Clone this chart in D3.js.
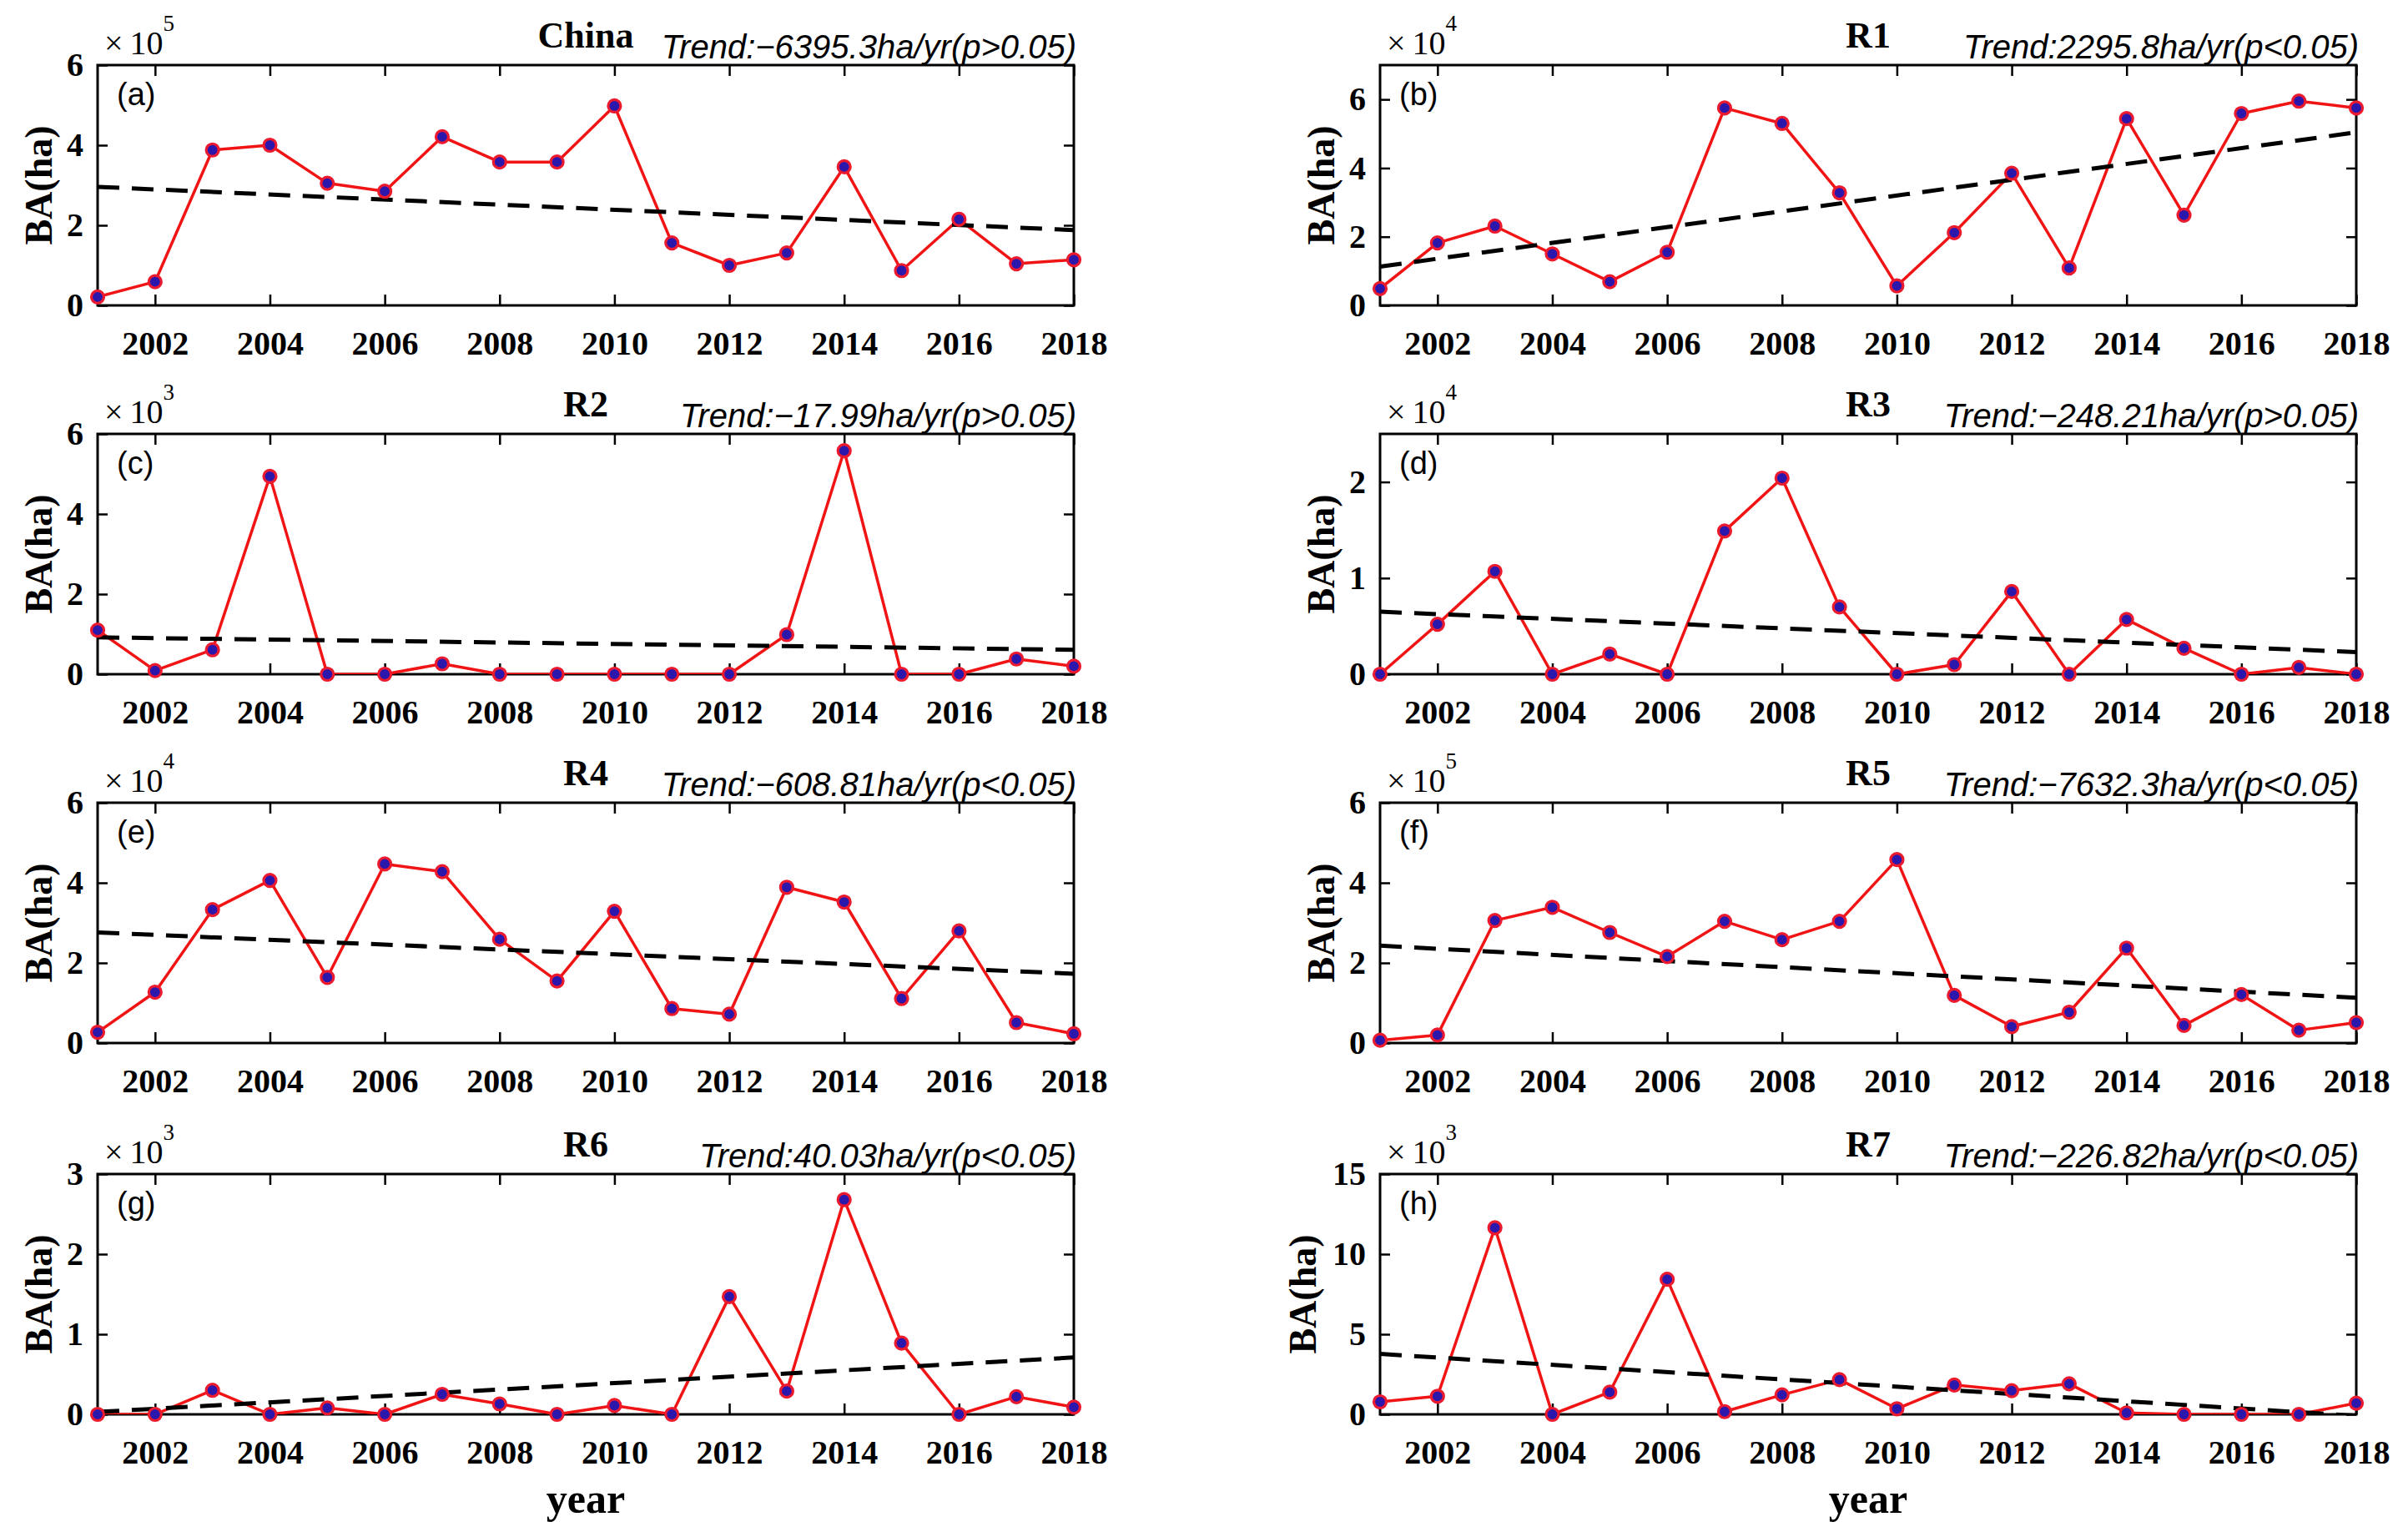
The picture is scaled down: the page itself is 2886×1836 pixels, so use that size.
<!DOCTYPE html>
<html><head><meta charset="utf-8">
<script src="https://cdn.jsdelivr.net/npm/d3@7"></script>
<style>html,body{margin:0;padding:0;background:#fff;} svg{display:block;}</style>
</head><body>
<svg id="chart" width="2886" height="1836"></svg>
<script>
// ---------- data ----------
const years = [2001,2002,2003,2004,2005,2006,2007,2008,2009,2010,2011,2012,2013,2014,2015,2016,2017,2018];
const xTickYears = [2002,2004,2006,2008,2010,2012,2014,2016,2018];
const panelNames = ["China","R1","R2","R3","R4","R5","R6","R7"];
const panelLetters = ["(a)","(b)","(c)","(d)","(e)","(f)","(g)","(h)"];
const trendLabels = [
  "Trend:\u22126395.3ha/yr(p>0.05)",
  "Trend:2295.8ha/yr(p<0.05)",
  "Trend:\u221217.99ha/yr(p>0.05)",
  "Trend:\u2212248.21ha/yr(p>0.05)",
  "Trend:\u2212608.81ha/yr(p<0.05)",
  "Trend:\u22127632.3ha/yr(p<0.05)",
  "Trend:40.03ha/yr(p<0.05)",
  "Trend:\u2212226.82ha/yr(p<0.05)"
];
const exponents = [5,4,3,4,4,5,3,3];
const yMaxes = [6,7,6,2.5,6,6,3,15];
const yTicks = [[0,2,4,6],[0,2,4,6],[0,2,4,6],[0,1,2],[0,2,4,6],[0,2,4,6],[0,1,2,3],[0,5,10,15]];

// burned area values, in units of 10^exponent ha
const baChina = [0.21,0.59,3.88,4.00,3.05,2.85,4.21,3.58,3.58,4.98,1.56,1.00,1.31,3.46,0.87,2.15,1.04,1.14];
const baR1    = [0.49,1.82,2.31,1.50,0.69,1.55,5.75,5.30,3.28,0.57,2.12,3.85,1.09,5.44,2.63,5.59,5.95,5.75];
const baR2    = [1.10,0.09,0.61,4.94,0.00,0.00,0.26,0.00,0.00,0.00,0.00,0.00,0.99,5.58,0.00,0.00,0.38,0.20];
const baR3    = [0.00,0.52,1.07,0.00,0.21,0.00,1.49,2.04,0.70,0.00,0.10,0.86,0.00,0.57,0.27,0.00,0.07,0.00];
const baR4    = [0.27,1.27,3.33,4.06,1.64,4.47,4.28,2.59,1.55,3.29,0.86,0.72,3.89,3.52,1.11,2.80,0.51,0.23];
const baR5    = [0.07,0.20,3.06,3.39,2.76,2.16,3.04,2.58,3.04,4.58,1.19,0.41,0.77,2.37,0.44,1.21,0.32,0.51];
const baR6    = [0.00,0.00,0.30,0.00,0.08,0.00,0.25,0.13,0.00,0.11,0.00,1.47,0.29,2.68,0.89,0.00,0.22,0.09];
const baR7    = [0.78,1.13,11.65,0.00,1.39,8.43,0.17,1.22,2.17,0.35,1.83,1.48,1.91,0.09,0.00,0.00,0.00,0.70];
const seriesList = [baChina, baR1, baR2, baR3, baR4, baR5, baR6, baR7];

// trend line values at 2001 and 2018 (same units)
const trendStart = [2.96,1.13,0.92,0.65,2.76,2.43,0.03,3.77];
const trendEnd   = [1.88,5.04,0.61,0.23,1.73,1.13,0.71,-0.09];

// ---------- layout ----------
const colLeft = [117, 1654];
const rowTop = [78, 520, 962, 1407];
const W = 1170, H = 288;
const SERIF = "'Liberation Serif','Times New Roman',serif";
const SANS = "'Liberation Sans',Arial,sans-serif";
const fmtY = d3.format("~g");

const svg = d3.select("#chart");
svg.append("rect").attr("width",2886).attr("height",1836).attr("fill","#fff");

seriesList.forEach((vals, i) => {
  const col = i % 2, row = Math.floor(i / 2);
  const left = colLeft[col], top = rowTop[row];
  const g = svg.append("g").attr("transform", `translate(${left},${top})`);

  const x = d3.scaleLinear().domain([2001, 2018]).range([0, W]);
  const y = d3.scaleLinear().domain([0, yMaxes[i]]).range([H, 0]);

  const clipId = "clip" + i;
  g.append("clipPath").attr("id", clipId).append("rect").attr("width", W).attr("height", H);

  // axes with inward ticks
  const axB = g.append("g").attr("transform", `translate(0,${H})`)
    .call(d3.axisBottom(x).tickValues(xTickYears).tickSize(-13).tickPadding(31).tickFormat(d3.format("d")));
  const axT = g.append("g")
    .call(d3.axisTop(x).tickValues(xTickYears).tickSize(-13).tickFormat(""));
  const axL = g.append("g")
    .call(d3.axisLeft(y).tickValues(yTicks[i]).tickSize(-12).tickPadding(17).tickFormat(fmtY));
  const axR = g.append("g").attr("transform", `translate(${W},0)`)
    .call(d3.axisRight(y).tickValues(yTicks[i]).tickSize(-12).tickFormat(""));
  [axB, axT, axL, axR].forEach(a => {
    a.select(".domain").remove();
    a.selectAll(".tick line").attr("stroke", "#000").attr("stroke-width", 2.5);
    a.selectAll(".tick text").attr("fill", "#000")
      .style("font-family", SERIF).style("font-weight", "bold").style("font-size", "40px");
  });

  // box
  g.append("rect").attr("width", W).attr("height", H)
    .attr("fill", "none").attr("stroke", "#000").attr("stroke-width", 3);

  const pts = years.map((yr, k) => ({ yr, v: vals[k] }));
  const line = d3.line().x(d => x(d.yr)).y(d => y(d.v));

  const plot = g.append("g").attr("clip-path", `url(#${clipId})`);
  plot.append("path").datum(pts).attr("d", line)
    .attr("fill", "none").attr("stroke", "#f01414").attr("stroke-width", 3.5)
    .attr("stroke-linejoin", "round");

  g.append("g").selectAll("circle").data(pts).join("circle")
    .attr("cx", d => x(d.yr)).attr("cy", d => y(d.v)).attr("r", 7.5)
    .attr("fill", "#2c17ad").attr("stroke", "#ec1a2e").attr("stroke-width", 3.2);

  const trendPts = [{ yr: years[0], v: trendStart[i] }, { yr: years[years.length - 1], v: trendEnd[i] }];
  plot.append("path").datum(trendPts).attr("d", line)
    .attr("fill", "none").attr("stroke", "#000").attr("stroke-width", 5)
    .attr("stroke-dasharray", "26,15");

  // title
  g.append("text").attr("x", W / 2).attr("y", -21).attr("text-anchor", "middle")
    .style("font-family", SERIF).style("font-weight", "bold").style("font-size", "44px")
    .text(panelNames[i]);

  // trend text
  g.append("text").attr("x", W + 3).attr("y", -8).attr("text-anchor", "end")
    .style("font-family", SANS).style("font-style", "italic").style("font-size", "40px")
    .text(trendLabels[i]);

  // exponent
  const ex = g.append("text").attr("x", 8).attr("y", -13)
    .style("font-family", SERIF).style("font-size", "40px");
  ex.append("tspan").text("\u00d7");
  ex.append("tspan").attr("dx", 8).text("10");
  ex.append("tspan").attr("dy", -28).style("font-size", "27px").text(exponents[i]);

  // panel letter
  g.append("text").attr("x", 23).attr("y", 48)
    .style("font-family", SANS).style("font-size", "38px").text(panelLetters[i]);

  // y label (shifted left when tick labels are wider, as MATLAB does)
  const maxLen = d3.max(yTicks[i], t => fmtY(t).length);
  const ylx = -55 - (maxLen - 1) * 22;
  g.append("text").attr("transform", `translate(${ylx},${H / 2}) rotate(-90)`)
    .attr("text-anchor", "middle")
    .style("font-family", SERIF).style("font-weight", "bold").style("font-size", "46px")
    .text("BA(ha)");

  // x label on bottom row
  if (row === 3) {
    g.append("text").attr("x", W / 2).attr("y", 1813 - top).attr("text-anchor", "middle")
      .style("font-family", SERIF).style("font-weight", "bold").style("font-size", "50px")
      .text("year");
  }
});
</script>
</body></html>
